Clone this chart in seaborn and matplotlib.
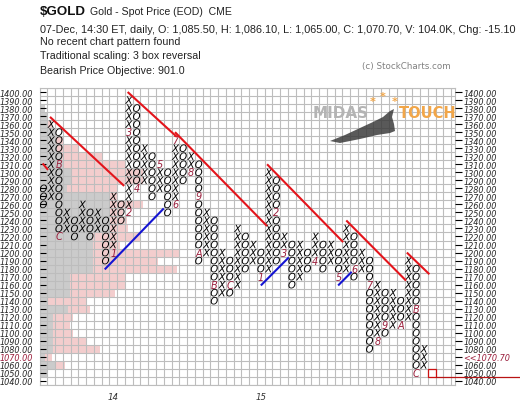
import numpy as np
import pandas as pd
import matplotlib
matplotlib.use('Agg')
import matplotlib.pyplot as plt
from matplotlib.patches import Rectangle, Polygon
import seaborn as sns

# Point & figure columns (10 point boxes, 3 box reversal); column 0 is an O column
col_top = [1280, 1360, 1350, 1250, 1240, 1260, 1250, 1250, 1240, 1270,
           1260, 1390, 1380, 1330, 1320, 1310, 1300, 1340, 1330, 1320,
           1310, 1250, 1240, 1200, 1190, 1230, 1220, 1210, 1200, 1300,
           1290, 1220, 1210, 1210, 1200, 1220, 1210, 1210, 1200, 1230,
           1220, 1200, 1190, 1160, 1150, 1150, 1140, 1190, 1180, 1080]
col_bottom = [1260, 1270, 1220, 1230, 1220, 1230, 1220, 1230, 1190, 1200,
              1240, 1250, 1280, 1290, 1270, 1280, 1250, 1260, 1290, 1300,
              1190, 1200, 1140, 1150, 1150, 1160, 1180, 1190, 1170, 1180,
              1190, 1200, 1160, 1170, 1180, 1190, 1180, 1190, 1170, 1180,
              1170, 1180, 1080, 1090, 1100, 1110, 1110, 1120, 1050, 1060]

# month markers replacing a box
month_cols = [2, 2, 9, 11, 11, 12, 15, 17, 17, 19, 20, 20, 22, 24,
              28, 30, 31, 35, 38, 40, 42, 43, 44, 46, 48, 48]
month_prices = [1310, 1220, 1200, 1250, 1350, 1280, 1310, 1260, 1340, 1300, 1270, 1200, 1160, 1160,
                1170, 1250, 1200, 1190, 1170, 1180, 1160, 1090, 1110, 1110, 1130, 1050]
month_labels = ['B', 'C', '1', '2', '3', '4', '5', '6', '7', '8', '9', 'A', 'B', 'C',
                '1', '2', '3', '4', '5', '6', '7', '8', '9', 'A', 'B', 'C']

year_cols = [9, 28]
year_labels = ['14', '15']

# trend lines (column, price) -> (column, price)
red_x0 = [-0.1, 0.85, 10.85, 16.95, 28.8, 39.0, 46.8]
red_p0 = [1311, 1369, 1400, 1350, 1310, 1240, 1200]
red_x1 = [0.6, 10.4, 17.2, 28.8, 38.6, 46.7, 49.7]
red_p1 = [1303, 1283, 1344, 1233, 1213, 1165, 1173]
blue_x0 = [7.9, 28.0, 37.95]
blue_p0 = [1179, 1159, 1159]
blue_x1 = [15.5, 31.6, 39.7]
blue_p1 = [1255, 1194, 1176]

# volume by price (box units)
vbp_prices = list(range(1380, 1040, -10))
vbp_grey = [0.7, 1.0, 1.0, 2.0, 2.0, 2.2, 2.9, 3.0, 4.2, 4.2, 3.5, 9.1, 9.1, 9.1, 9.1, 9.1, 6.9,
            6.9, 6.9, 6.9, 6.9, 3.9, 3.9, 3.9, 1.1, 3.7, 1.7, 1.7, 1.7, 1.7, 1.7, 0.7, 2.0, 1.0]
vbp_pink = [0.7, 1.0, 1.6, 2.0, 3.0, 5.0, 8.2, 11.0, 13.3, 13.3, 10.0, 10.1, 13.3, 10.8, 11.3, 11.4, 13.0,
            10.4, 18.1, 15.3, 17.7, 11.0, 11.0, 9.7, 6.1, 6.5, 4.3, 3.9, 4.3, 6.1, 7.8, 1.6, 3.3, 1.0]

price_ticks = list(range(1400, 1030, -10))
last_price = 1070.70
current_col = 50
current_box = 1050

# build box table
rows = []
marked = set(zip(month_cols, month_prices))
for i, (t, b) in enumerate(zip(col_top, col_bottom)):
    kind = 'O' if i % 2 == 0 else 'X'
    for p in range(b, t + 10, 10):
        if (i, p) not in marked:
            rows.append((i, p, kind))
boxes = pd.DataFrame(rows, columns=['col', 'price', 'kind'])

sns.set_style('white')
fig = plt.figure(figsize=(5.2, 4.1), dpi=100)
W, H = 520, 410
ax = fig.add_axes([39.5 / W, 1 - 386 / H, (455 - 39.5) / W, (386 - 89) / H])
ax.set_xlim(-0.5, 53.0)
ax.set_ylim(1035, 1405)

pink = '#f3cdcd'
grey = '#cbcbcb'
ax.barh(vbp_prices, vbp_pink, left=-0.5, height=10, color=pink, zorder=0, linewidth=0)
ax.barh(vbp_prices, vbp_grey, left=-0.5, height=10, color=grey, zorder=0.5, linewidth=0)

ax.set_xticks(np.arange(-0.5, 53.5, 1), minor=True)
ax.set_yticks(np.arange(1035, 1406, 10), minor=True)
ax.grid(which='minor', color='#bdbdbd', lw=0.8, zorder=1)
ax.grid(which='major', visible=False)
ax.set_axisbelow(False)
for s in ax.spines.values():
    s.set_color('#bdbdbd')
    s.set_linewidth(0.8)

sns.scatterplot(data=boxes, x='col', y='price', style='kind',
                markers={'X': '$X$', 'O': '$O$'}, color='black', s=30,
                linewidth=0, legend=False, ax=ax, zorder=3)

maroon = '#9b1f3c'
for c, p, lab in zip(month_cols, month_prices, month_labels):
    ax.text(c, p, lab, ha='center', va='center', color=maroon, fontsize=7,
            style='italic', zorder=3)

for x0, p0, x1, p1 in zip(red_x0, red_p0, red_x1, red_p1):
    ax.plot([x0, x1], [p0, p1], color='#e3141b', lw=1.5, zorder=4, solid_capstyle='butt')
for x0, p0, x1, p1 in zip(blue_x0, blue_p0, blue_x1, blue_p1):
    ax.plot([x0, x1], [p0, p1], color='#1414d2', lw=1.5, zorder=4, solid_capstyle='butt')

ax.add_patch(Rectangle((current_col - 0.5, current_box - 5), 1, 10, fill=False,
                       edgecolor='#cc1111', lw=0.9, zorder=4))
ax.plot([current_col + 0.5, 62], [current_box - 5, current_box - 5], color='#b81414',
        lw=0.9, clip_on=False, zorder=4)

# axes labels
ax.set_xlabel('')
ax.set_ylabel('')
ax.set_xticks(year_cols)
ax.set_xticklabels(year_labels, style='italic', fontsize=6.2, color='#333333')
ax.tick_params(axis='x', which='major', length=3, color='#999999', pad=2)
ax.tick_params(which='minor', length=0)
ax.set_yticks(price_ticks)
ax.set_yticklabels(['%.2f' % p for p in price_ticks], style='italic', fontsize=5.9)
ax.tick_params(axis='y', which='major', direction='in', length=4, width=0.8,
               color='black', pad=5)
for lab in ax.get_yticklabels():
    if lab.get_text() == '%.2f' % 1070:
        lab.set_color(maroon)

ax2 = ax.twinx()
ax2.set_ylim(ax.get_ylim())
ax2.set_yticks(price_ticks)
right_labels = ['%.2f' % p for p in price_ticks]
right_labels[price_ticks.index(1070)] = '<<%.2f' % last_price
ax2.set_yticklabels(right_labels, style='italic', fontsize=5.9)
ax2.tick_params(axis='y', direction='out', length=5, width=0.8, color='black', pad=1)
for lab in ax2.get_yticklabels():
    if lab.get_text().startswith('<<'):
        lab.set_color(maroon)
for s in ax2.spines.values():
    s.set_visible(False)
ax2.grid(False)

# header
def ftext(x, y, s, **kw):
    fig.text(x / W, 1 - y / H, s, va='center', **kw)

hdr = '#222222'
ftext(40, 12, '$GOLD', fontsize=9.6, fontweight='bold', family='Liberation Sans', color='#111111')
ftext(90, 12, 'Gold - Spot Price (EOD)  CME', fontsize=7.6, family='Liberation Sans', color=hdr)
ftext(40, 30, '07-Dec, 14:30 ET, daily, O: 1,085.50, H: 1,086.10, L: 1,065.00, C: 1,070.70, V: 104.0K, Chg: -15.10',
      fontsize=7.85, family='Liberation Sans', color=hdr)
ftext(40, 42, 'No recent chart pattern found', fontsize=7.7, family='Liberation Sans', color=hdr)
ftext(40, 56, 'Traditional scaling: 3 box reversal', fontsize=7.7, family='Liberation Sans', color=hdr)
ftext(40, 71, 'Bearish Price Objective: 901.0', fontsize=7.7, family='Liberation Sans', color=hdr)
ftext(362, 66, '(c) StockCharts.com', fontsize=6.3, color='#808080')

# watermark logo
ftext(313, 114, 'MIDAS', fontsize=11, fontweight='bold', color='#b4b4b4')
ftext(399, 114, 'TOUCH', fontsize=10.5, fontweight='bold', color='#f2a648')
for sx, sy in [(373, 100), (383, 95), (395, 100)]:
    ftext(sx - 3, sy + 2, '*', fontsize=8, fontweight='bold', color='#f2a648')
bull = [(330, 142), (345, 136), (360, 129), (373, 123), (383, 118), (390, 112), (394, 110),
        (392, 118), (394, 125), (395, 132), (390, 134), (377, 136), (360, 140), (340, 144)]
fig.patches.append(Polygon([(x / W, 1 - y / H) for x, y in bull], closed=True,
                           transform=fig.transFigure, facecolor='#3c3c3c',
                           edgecolor='none', alpha=0.85, zorder=5))

fig.savefig('out.png', dpi=100)
